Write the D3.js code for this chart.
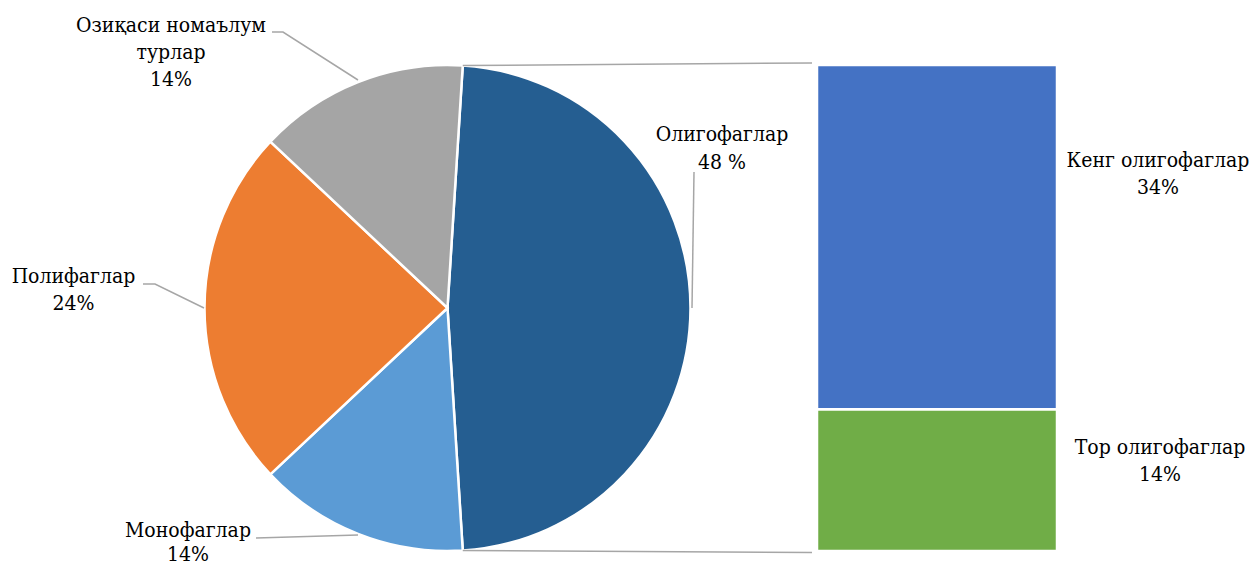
<!DOCTYPE html>
<html><head><meta charset="utf-8">
<script src="https://cdn.jsdelivr.net/npm/d3@7"></script>
<style>body{margin:0;background:#fff}svg{display:block}</style>
</head><body><svg id="c" width="1253" height="565"></svg>
<script>
const pieLabels = ["Олигофаглар", "Монофаглар", "Полифаглар", "Озиқаси номаълум турлар"];
const pieValues = [48, 14, 24, 14];
const pieColors = ["#255E91", "#5B9BD5", "#ED7D31", "#A5A5A5"];
const pieLabelLines = [["Олигофаглар", "48 %"], ["Монофаглар", "14%"], ["Полифаглар", "24%"], ["Озиқаси номаълум", "турлар", "14%"]];
const barLabels = ["Тор олигофаглар", "Кенг олигофаглар"];
const barValues = [14, 34];
const barColors = ["#70AD47", "#4472C4"];
const barLabelLines = [["Тор олигофаглар", "14%"], ["Кенг олигофаглар", "34%"]];

const FONT = "'DejaVu Serif Condensed', 'DejaVu Serif', serif";
const svg = d3.select("#c");
const cx = 447.5, cy = 308, R = 243;
const splitFrac = pieValues[0] / d3.sum(pieValues);
const start = Math.PI / 2 - splitFrac * Math.PI;
const pie = d3.pie().sort(null).value(d => d).startAngle(start).endAngle(start + 2 * Math.PI);
const arcs = pie(pieValues);
const arc = d3.arc().innerRadius(0).outerRadius(R);
const g = svg.append("g").attr("transform", `translate(${cx},${cy})`);
g.selectAll("path").data(arcs).join("path")
  .attr("d", arc).attr("fill", (d, i) => pieColors[i])
  .attr("stroke", "#fff").attr("stroke-width", 2.5);

// bar
const barX0 = 817, barX1 = 1057;
const y = d3.scaleLinear().domain([0, d3.sum(barValues)]).range([551, 65]);
let acc = 0;
const stacks = barValues.map(v => { const s = { y0: acc, y1: acc + v }; acc += v; return s; });
svg.append("g").selectAll("rect").data(stacks).join("rect")
  .attr("x", barX0).attr("width", barX1 - barX0)
  .attr("y", d => y(d.y1)).attr("height", d => y(d.y0) - y(d.y1))
  .attr("fill", (d, i) => barColors[i]).attr("stroke", "#fff").attr("stroke-width", 2.5);

// connectors
const a0 = arcs[0].startAngle, a1 = arcs[0].endAngle;
const pt = a => [cx + R * Math.sin(a), cy - R * Math.cos(a)];
const line = d3.line();
const conn = svg.append("g").attr("stroke", "#A6A6A6").attr("stroke-width", 1.5).attr("fill", "none");
conn.append("path").attr("d", line([pt(a0), [812, y(d3.sum(barValues)) - 2]]));
conn.append("path").attr("d", line([pt(a1), [812, y(0) + 1.5]]));

// leader lines
const leaders = [
  [[694, 172], [692, 308]],
  [[256, 538], [358, 535]],
  [[143, 284], [155, 284], [204, 308]],
  [[272, 32], [283, 32], [358, 80]]
];
const lg = svg.append("g").attr("stroke", "#A6A6A6").attr("stroke-width", 1.5).attr("fill", "none");
leaders.forEach(p => lg.append("path").attr("d", line(p)));

// labels
const labelPos = [[722, 141], [188, 537], [73.5, 283], [171, 32]];
const labelGap = [28, 24, 27, 27];
const drawLabel = (lines, x, yb, gap) => {
  const t = svg.append("text").attr("text-anchor", "middle")
    .style("font-family", FONT).style("font-size", "21px").attr("fill", "#000");
  lines.forEach((l, i) => t.append("tspan").attr("x", x).attr("y", yb + i * gap).text(l));
};
pieLabelLines.forEach((ls, i) => drawLabel(ls, labelPos[i][0], labelPos[i][1], labelGap[i]));
const barLabelPos = [[1160, 454], [1158, 167]];
barLabelLines.forEach((ls, i) => drawLabel(ls, barLabelPos[i][0], barLabelPos[i][1], 27));
</script></body></html>
